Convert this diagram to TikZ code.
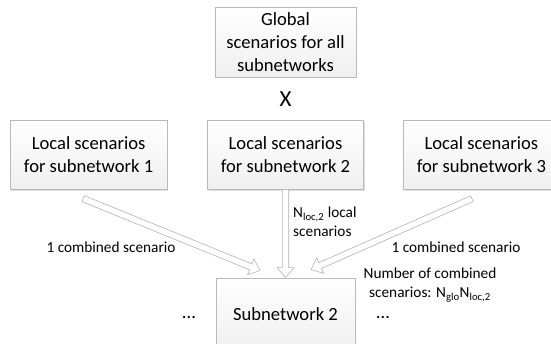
\documentclass[tikz,border=0pt]{standalone}
\usepackage{fontspec}
\setmainfont{Carlito}
\usepackage{tikz}
\usetikzlibrary{positioning, calc, shadows}
\tikzstyle{scen} = [rectangle, draw=gray!55, top color=white, bottom color=gray!12, drop shadow={shadow xshift=1.2pt, shadow yshift=-1.2pt, opacity=0.25}, align=center, text centered, font=\fontsize{18.6}{22.7}\selectfont]
\tikzstyle{lbl} = [font=\fontsize{15.3}{18.8}\selectfont, inner sep=0pt]
\tikzstyle{hollow} = [draw=gray!60, fill=white, line width=0.6pt, line join=miter]

\newcommand{\hollowarrow}[2]{%
  \path[hollow] let \p1=($(#2)-(#1)$), \n1={atan2(\y1,\x1)}, \n2={veclen(\x1,\y1)} in
    ($(#1)+(\n1+90:3.2pt)$) -- ++(\n1:\n2-10pt) -- ++(\n1+90:5.3pt) -- (#2)
    -- ($(#2)+(\n1+180:10pt)+(\n1-90:8.5pt)$) -- ++(\n1+90:5.3pt) -- ($(#1)+(\n1-90:3.2pt)$) -- cycle;}

\begin{document}
\begin{tikzpicture}[x=1pt, y=1pt]
		\useasboundingbox (0,0) rectangle (551,-344);
		\node (Global)[scen, minimum width=141pt, minimum height=70pt] at (285.5,-42) {Global\\scenarios for all\\subnetworks};
		\node (Local2)[scen, minimum width=156pt, minimum height=69pt, below=43pt of Global] {Local scenarios\\for subnetwork 2};
		\node (Local1)[scen, minimum width=157pt, minimum height=69pt, left=40pt of Local2] {Local scenarios\\for subnetwork 1};
		\node (Local3)[scen, minimum width=157pt, minimum height=69pt, right=39pt of Local2] {Local scenarios\\for subnetwork 3};
		\node (Times)[font=\fontsize{23}{26}\selectfont] at ($(Global.south)!0.5!(Local2.north)$) {X};
		\node (Subnet)[scen, minimum width=139pt, minimum height=72pt, below=88pt of Local2] {Subnetwork 2};
		% arrow ends
		\coordinate (L1out) at ([xshift=-5.5pt, yshift=-9pt]Local1.south);
		\coordinate (L1in) at ([xshift=-25.5pt, yshift=7pt]Subnet.north);
		\coordinate (L3out) at ([xshift=-9.5pt, yshift=-9pt]Local3.south);
		\coordinate (L3in) at ([xshift=25.5pt, yshift=8pt]Subnet.north);
		\hollowarrow{L1out}{L1in}
		\hollowarrow{Local2.south}{Subnet.north}
		\hollowarrow{L3out}{L3in}
		% labels
		\node (Comb1)[lbl] at (111,-247) {1 combined scenario};
		\node (NLoc)[lbl, align=left, anchor=west] at (293,-222) {N\textsubscript{loc,2} local\\scenarios};
		\node (Comb3)[lbl] at (456,-247) {1 combined scenario};
		\node (Count)[lbl, align=center] at (430,-285) {Number of combined\\scenarios: N\textsubscript{glo}N\textsubscript{loc,2}};
		\node (DotsL)[font=\fontsize{18.6}{22}\selectfont, anchor=base] at (189,-318.5) {...};
		\node (DotsR)[font=\fontsize{18.6}{22}\selectfont, anchor=base] at (383,-318.5) {...};
	\end{tikzpicture}
\end{document}
